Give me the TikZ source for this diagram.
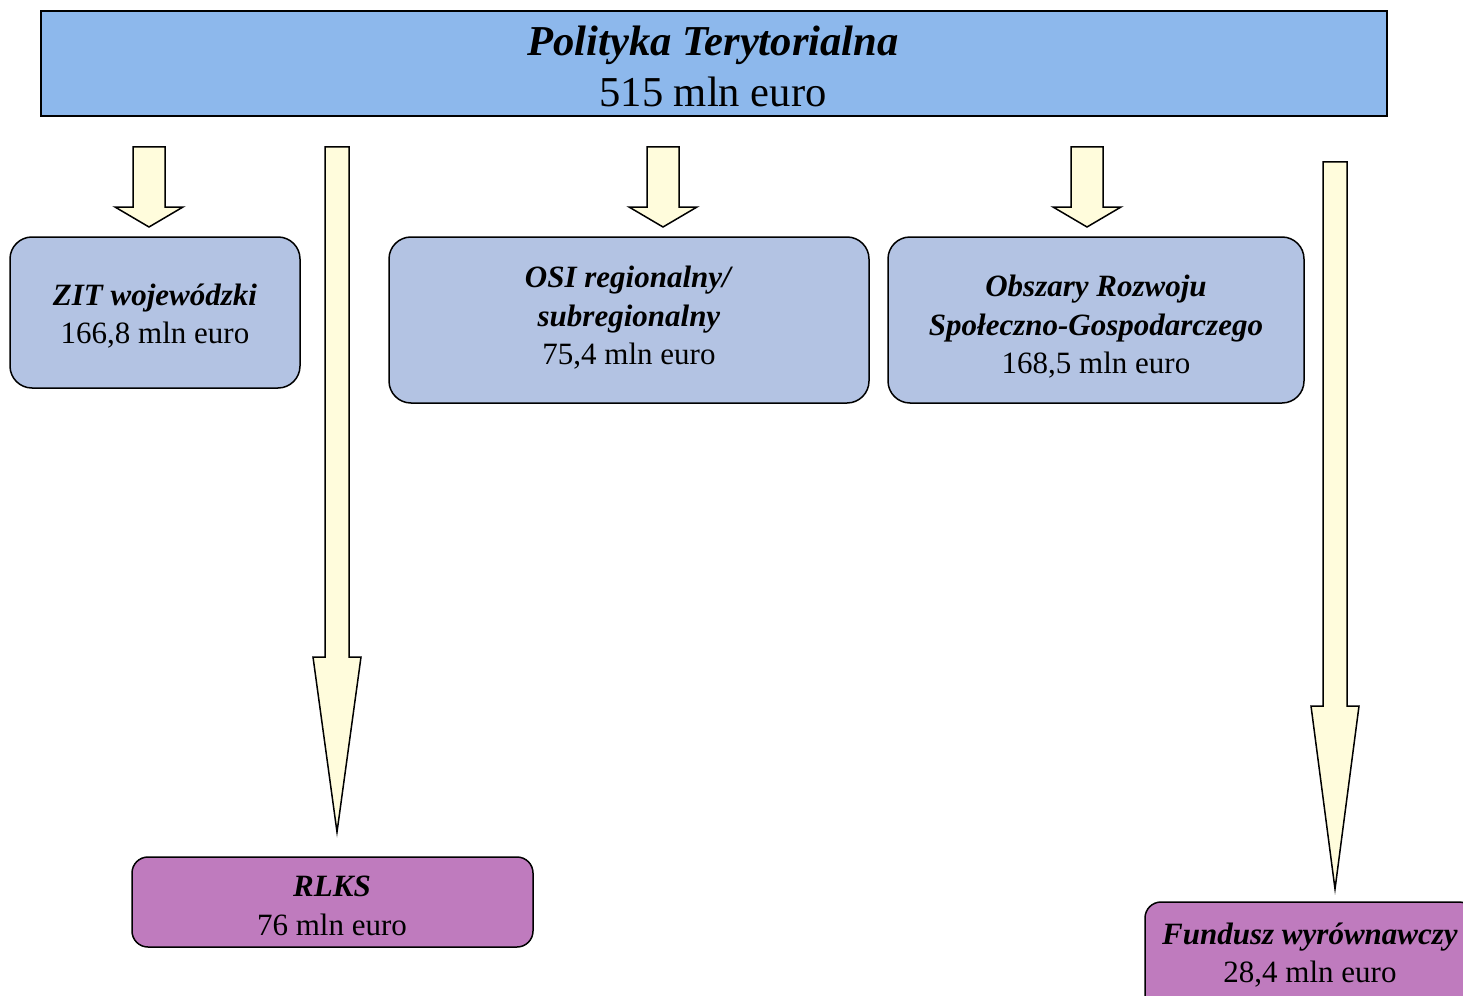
\documentclass[tikz,border=0pt]{standalone}
\usepackage{fontspec}
\setmainfont{Liberation Serif}
\definecolor{topblue}{HTML}{8DB8EC}
\definecolor{boxblue}{HTML}{B3C3E3}
\definecolor{boxpurple}{HTML}{BF7BBE}
\definecolor{arrowyellow}{HTML}{FFFCDC}
\tikzset{
  topbox/.style={draw=black, line width=1.5pt, fill=topblue, inner sep=0pt},
  bluebox/.style={draw=black, line width=1.5pt, fill=boxblue, rounded corners=22pt, inner sep=0pt},
  purplebox/.style={draw=black, line width=1.5pt, fill=boxpurple, rounded corners=16pt, inner sep=0pt},
  boxtext/.style={align=center, inner sep=0pt, font=\fontsize{31}{38.5}\selectfont},
  titletext/.style={align=center, inner sep=0pt, font=\fontsize{42.6}{51}\selectfont},
  blockarrow/.style={draw=black, line width=1.5pt, fill=arrowyellow, line join=miter}
}
% #1 centre x, #2 top y, #3 head start y, #4 tip y, #5 shaft half width, #6 head half width
\newcommand{\myblockarrow}[6]{%
  \draw[blockarrow] (#1-#5,#2) -- (#1+#5,#2) -- (#1+#5,#3) -- (#1+#6,#3) -- (#1,#4)
    -- (#1-#6,#3) -- (#1-#5,#3) -- cycle;}
\begin{document}
\begin{tikzpicture}[x=1pt,y=-1pt]
\useasboundingbox (0,0) rectangle (1463,995);
\clip (0,0) rectangle (1463,995);
% top box
\node[topbox, minimum width=1346pt, minimum height=105pt] (top) at (714,63.5) {};
\node[titletext] (toptxt) at (713,66) {\textbf{\textit{Polityka Terytorialna}}\\515 mln euro};
% arrows
\myblockarrow{149}{147}{207}{227}{16}{34}
\myblockarrow{337}{147}{657}{832}{12}{24}
\myblockarrow{663}{147}{207}{227}{16}{34}
\myblockarrow{1087}{147}{207}{227}{16}{34}
\myblockarrow{1335}{162}{706}{889}{12}{24}
% boxes
\node[bluebox, minimum width=290pt, minimum height=151pt] (zit) at (155,312.5) {};
\node[boxtext] (zittxt) at (155,316) {\textbf{\textit{ZIT wojewódzki}}\\166,8 mln euro};
\node[bluebox, minimum width=480pt, minimum height=166pt] (osi) at (629,320) {};
\node[boxtext] (ositxt) at (629,318) {\textbf{\textit{OSI regionalny/}}\\\textbf{\textit{subregionalny}}\\75,4 mln euro};
\node[bluebox, minimum width=416pt, minimum height=166pt] (ors) at (1096,320) {};
\node[boxtext] (orstxt) at (1096,327) {\textbf{\textit{Obszary Rozwoju}}\\\textbf{\textit{Społeczno-Gospodarczego}}\\168,5 mln euro};
\node[purplebox, minimum width=401pt, minimum height=90pt] (rlks) at (332.5,902) {};
\node[boxtext] (rlkstxt) at (332,906) {\textbf{\textit{RLKS}}\\76 mln euro};
\node[purplebox, minimum width=330pt, minimum height=130pt] (fw) at (1310,967) {};
\node[boxtext] (fwtxt) at (1310,955) {\textbf{\textit{Fundusz wyrównawczy}}\\28,4 mln euro};
\end{tikzpicture}
\end{document}
